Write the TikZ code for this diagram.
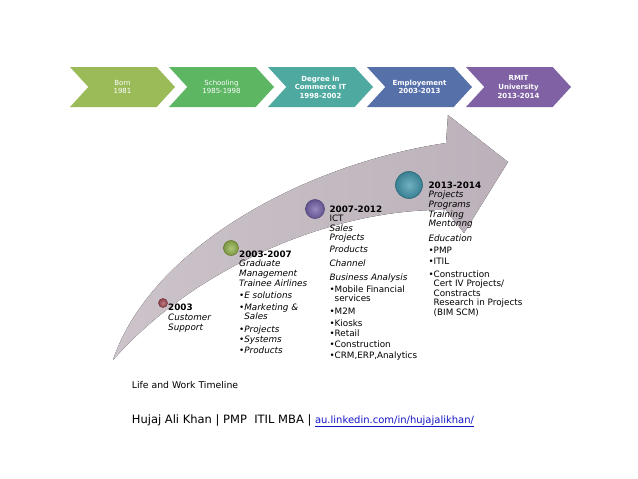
\documentclass[tikz,border=0pt]{standalone}
\usepackage{fontspec}
\setmainfont{DejaVu Sans}
\usetikzlibrary{shapes.symbols}

\definecolor{bornclr}{RGB}{155,187,89}
\definecolor{schoolclr}{RGB}{92,182,98}
\definecolor{degreeclr}{RGB}{78,170,160}
\definecolor{employclr}{RGB}{86,112,170}
\definecolor{rmitclr}{RGB}{128,98,164}
\definecolor{arrowlight}{RGB}{204,196,202}
\definecolor{arrowdark}{RGB}{188,177,186}
\definecolor{dotred}{RGB}{168,78,88}
\definecolor{dotgreen}{RGB}{146,178,76}
\definecolor{dotpurple}{RGB}{118,98,170}
\definecolor{dotteal}{RGB}{66,150,172}
\definecolor{linkblue}{RGB}{20,20,200}

\begin{document}
\begin{tikzpicture}[x=1pt, y=-1pt,
    chev/.style = {shape=signal, signal from=west, signal to=east,
        signal pointer angle=95, minimum width=105pt, minimum height=40pt,
        inner sep=0pt, text=white, align=center,
        font=\fontsize{7}{8.6}\selectfont},
    sphere/.style = {circle, inner sep=0pt, draw=#1!70!black, line width=0.6pt,
        inner color=#1!75!white, outer color=#1!85!black},
    block/.style = {anchor=north west, inner sep=0pt, align=left,
        font=\fontsize{8.8}{9.6}\selectfont}]
    \useasboundingbox[fill=white] (0,0) rectangle (638,479);

    % top row of chevrons
    \node[chev, fill=bornclr] (born) at (122.5,87) {Born\\1981};
    \node[chev, fill=schoolclr] (school) at (221.5,87) {Schooling\\1985-1998};
    \node[chev, fill=degreeclr, font=\fontsize{7}{8.6}\bfseries] (degree) at (320.5,87) {Degree in\\Commerce IT\\1998-2002};
    \node[chev, fill=employclr, font=\fontsize{7}{8.6}\bfseries] (employ) at (419.5,87) {Employement\\2003-2013};
    \node[chev, fill=rmitclr, font=\fontsize{7}{8.6}\bfseries] (rmit) at (518.5,87) {RMIT\\University\\2013-2014};

    % the big curved arrow
    \fill[left color=arrowlight, right color=arrowdark]
        (113,360) .. controls (150,250) and (300,165) .. (446,143)
        -- (448,115) -- (508,162) -- (464,233) -- (446,210)
        .. controls (340,208) and (200,262) .. (113,360) -- cycle;

    % milestones
    \node[sphere=dotred, minimum size=9pt] (dot03) at (163,303) {};
    \node[sphere=dotgreen, minimum size=15pt] (dot07) at (231,248) {};
    \node[sphere=dotpurple, minimum size=19pt] (dot12) at (315,209) {};
    \node[sphere=dotteal, minimum size=27pt] (dot14) at (409,185) {};

    \node[block] (txt03) at (168,303.6) {\textbf{2003}\\[0.5pt]
        \textit{Customer}\\ \textit{Support}};
    \node[block] (txt07) at (239,250.6) {\textbf{2003-2007}\\
        \textit{Graduate}\\ \textit{Management}\\ \textit{Trainee Airlines}\\[2.7pt]
        \textbullet\textit{E solutions}\\[2.4pt]
        \textbullet\textit{Marketing \&}\\[-0.6pt]
        \hphantom{\textbullet}\textit{Sales}\\[3pt]
        \textbullet\textit{Projects}\\[1.2pt]
        \textbullet\textit{Systems}\\[1.2pt]
        \textbullet\textit{Products}};
    \node[block] (txt12) at (329.3,205.3) {\textbf{2007-2012}\\
        ICT\\ \textit{Sales}\\ \textit{Projects}\\[2.4pt]
        \textit{Products}\\[4.4pt] \textit{Channel}\\[4pt]
        \textit{Business Analysis}\\[2.7pt]
        \textbullet Mobile Financial\\[-0.6pt]
        \hphantom{\textbullet}services\\[3.4pt]
        \textbullet M2M\\[2pt] \textbullet Kiosks\\[0.4pt]
        \textbullet Retail\\[1.4pt] \textbullet Construction\\[1.7pt]
        \textbullet CRM,ERP,Analytics};
    \node[block] (txt14) at (428.3,181.6) {\textbf{2013-2014}\\
        \textit{Projects}\\ \textit{Programs}\\ \textit{Training}\\
        \textit{Mentonng}\\[5.4pt] \textit{Education}\\[1.7pt]
        \textbullet PMP\\[1.4pt] \textbullet ITIL\\[3.4pt]
        \textbullet Construction\\ \hphantom{\textbullet}Cert IV Projects/\\
        \hphantom{\textbullet}Constracts\\
        \hphantom{\textbullet}Research in Projects\\
        \hphantom{\textbullet}(BIM SCM)};

    % footer
    \node[anchor=base west, inner sep=0pt, font=\fontsize{9.3}{11}\selectfont]
        (caption) at (131.7,388) {Life and Work Timeline};
    \node[anchor=base west, inner sep=0pt, font=\fontsize{11.5}{13}\selectfont]
        (author) at (131.7,423) {Hujaj Ali Khan | PMP\ \ ITIL MBA |
        {\fontsize{10}{12}\selectfont\color{linkblue}\underline{au.linkedin.com/in/hujajalikhan/}}};
\end{tikzpicture}
\end{document}
